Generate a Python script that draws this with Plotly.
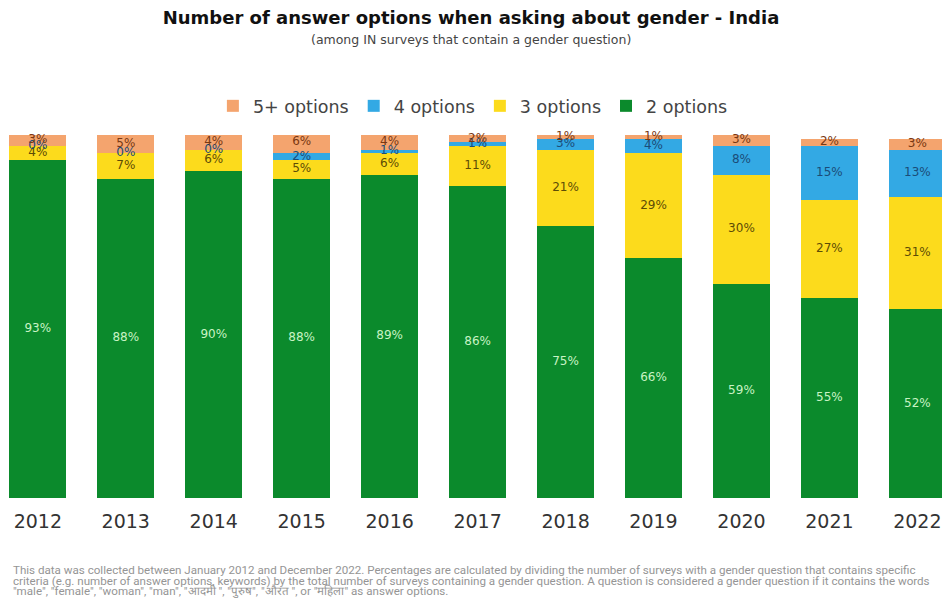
import plotly.graph_objects as go

years = ["2012", "2013", "2014", "2015", "2016", "2017", "2018", "2019", "2020", "2021", "2022"]
two_opts = [93, 88, 90, 88, 89, 86, 75, 66, 59, 55, 52]
three_opts = [4, 7, 6, 5, 6, 11, 21, 29, 30, 27, 31]
four_opts = [0, 0, 0, 2, 1, 1, 3, 4, 8, 15, 13]
five_plus_opts = [3, 5, 4, 6, 4, 2, 1, 1, 3, 2, 3]

series = [
    ("2 options", two_opts, "#0b8a2c", "#c9f3c4"),
    ("3 options", three_opts, "#fcdb1c", "#5c4c06"),
    ("4 options", four_opts, "#33a9e4", "#1b4c78"),
    ("5+ options", five_plus_opts, "#f4a46e", "#7a3812"),
]

LABEL_FONT = "DejaVu Sans"

fig = go.Figure()

# stacked bars
for name, vals, color, _ in series:
    fig.add_trace(go.Bar(
        x=years,
        y=vals,
        name=name,
        marker=dict(color=color, line=dict(width=0)),
        hoverinfo="skip",
    ))

# value labels centred on each segment (drawn even for 0% segments)
base = [0] * len(years)
for name, vals, _, txtcolor in series:
    mids = [b + v / 2 for b, v in zip(base, vals)]
    fig.add_trace(go.Scatter(
        x=years,
        y=mids,
        mode="text",
        text=[f"{v}%" for v in vals],
        textposition="middle center",
        textfont=dict(family=LABEL_FONT, size=12, color=txtcolor),
        showlegend=False,
        hoverinfo="skip",
        cliponaxis=False,
    ))
    base = [b + v for b, v in zip(base, vals)]

fig.update_layout(
    barmode="stack",
    bargap=0.35,
    width=942,
    height=605,
    margin=dict(l=0, r=0, t=135, b=107),
    paper_bgcolor="white",
    plot_bgcolor="white",
    showlegend=True,
    legend=dict(
        orientation="h",
        traceorder="reversed",
        x=0.502, xanchor="center",
        y=1.08, yanchor="middle",
        font=dict(family=LABEL_FONT, size=17.5, color="#444444"),
        bgcolor="rgba(0,0,0,0)",
    ),
    title=dict(
        text="<b>Number of answer options when asking about gender - India</b>",
        x=0.5, xanchor="center",
        y=1 - 18 / 605, yanchor="middle",
        yref="container",
        font=dict(family="DejaVu Sans", size=18, color="#111111"),
    ),
    xaxis=dict(
        type="category",
        range=[-0.43, 10.28],
        showgrid=False,
        zeroline=False,
        showline=False,
        ticks="",
        ticklabelstandoff=10,
        tickfont=dict(family=LABEL_FONT, size=19, color="#333333"),
    ),
    yaxis=dict(
        range=[0, 100],
        visible=False,
        showgrid=False,
    ),
)

fig.add_annotation(
    text="(among IN surveys that contain a gender question)",
    xref="paper", yref="paper",
    x=0.5, y=(498 - 39) / 363,
    xanchor="center", yanchor="middle",
    showarrow=False,
    font=dict(family="DejaVu Sans", size=12.5, color="#444444"),
)

footnote_lines = [
    "This data was collected between January 2012 and December 2022. Percentages are calculated by dividing the number of surveys with a gender question that contains specific",
    "criteria (e.g. number of answer options, keywords) by the total number of surveys containing a gender question. A question is considered a gender question if it contains the words",
    "\"male\", \"female\", \"woman\", \"man\", \"आदमी \", \"पुरुष\", \"औरत \", or \"महिला\" as answer options.",
]
for i, line in enumerate(footnote_lines):
    fig.add_annotation(
        text=line,
        xref="paper", yref="paper",
        x=0.012, y=(498 - (570 + 10.5 * i)) / 363,
        xanchor="left", yanchor="middle",
        align="left",
        showarrow=False,
        font=dict(family="Roboto", size=11.6, color="#959595"),
    )

fig.write_html("out.html")
